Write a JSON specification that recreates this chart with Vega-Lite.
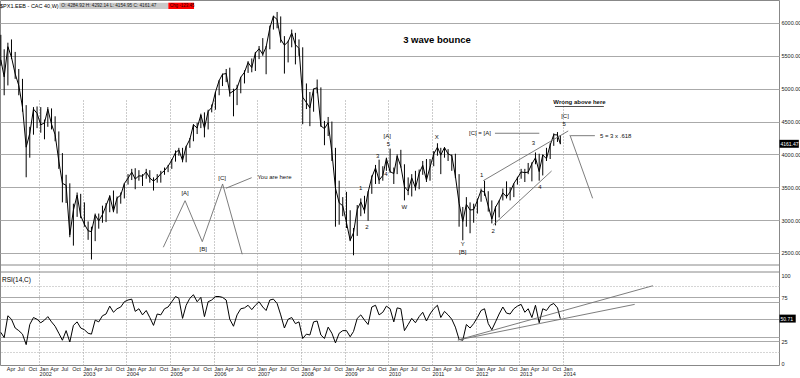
{
 "$schema": "https://vega.github.io/schema/vega-lite/v6.json",
 "width": 779, "height": 365,
 "autosize": {"type": "none"},
 "padding": {"left": 0, "top": 0, "right": 21, "bottom": 13},
 "background": "white",
 "config": {"font": "Liberation Sans", "view": {"stroke": "#888", "strokeWidth": 1}, "text": {"font": "Liberation Sans"}},
 "datasets": {
  "px": [
   {"d":"2001-02-15","h":5820,"l":5350,"c":5440,"r":35},
   {"d":"2001-03-15","h":5600,"l":4900,"c":5180,"r":29},
   {"d":"2001-04-15","h":5700,"l":5050,"c":5640,"r":54},
   {"d":"2001-05-15","h":5750,"l":5450,"c":5480,"r":50},
   {"d":"2001-06-15","h":5560,"l":5150,"c":5226,"r":40},
   {"d":"2001-07-15","h":5300,"l":4900,"c":5050,"r":37},
   {"d":"2001-08-15","h":5150,"l":4650,"c":4720,"r":33},
   {"d":"2001-09-15","h":4750,"l":3652,"c":4110,"r":21},
   {"d":"2001-10-15","h":4420,"l":3950,"c":4320,"r":44},
   {"d":"2001-11-15","h":4720,"l":4300,"c":4690,"r":52},
   {"d":"2001-12-15","h":4730,"l":4400,"c":4625,"r":50},
   {"d":"2002-01-15","h":4720,"l":4330,"c":4450,"r":46},
   {"d":"2002-02-15","h":4530,"l":4230,"c":4480,"r":49},
   {"d":"2002-03-15","h":4720,"l":4420,"c":4688,"r":53},
   {"d":"2002-04-15","h":4700,"l":4380,"c":4460,"r":47},
   {"d":"2002-05-15","h":4580,"l":4200,"c":4300,"r":42},
   {"d":"2002-06-15","h":4350,"l":3780,"c":3898,"r":34},
   {"d":"2002-07-15","h":4020,"l":3270,"c":3560,"r":26},
   {"d":"2002-08-15","h":3690,"l":3260,"c":3530,"r":37},
   {"d":"2002-09-15","h":3560,"l":2740,"c":2777,"r":24},
   {"d":"2002-10-15","h":3250,"l":2612,"c":3150,"r":43},
   {"d":"2002-11-15","h":3420,"l":3050,"c":3380,"r":47},
   {"d":"2002-12-15","h":3400,"l":3030,"c":3064,"r":40},
   {"d":"2003-01-15","h":3270,"l":2900,"c":2938,"r":38},
   {"d":"2003-02-15","h":2980,"l":2700,"c":2838,"r":34},
   {"d":"2003-03-15","h":2900,"l":2401,"c":2824,"r":33},
   {"d":"2003-04-15","h":3100,"l":2680,"c":3080,"r":49},
   {"d":"2003-05-15","h":3100,"l":2870,"c":2986,"r":47},
   {"d":"2003-06-15","h":3220,"l":2960,"c":3085,"r":54},
   {"d":"2003-07-15","h":3260,"l":2970,"c":3218,"r":56},
   {"d":"2003-08-15","h":3380,"l":3120,"c":3366,"r":65},
   {"d":"2003-09-15","h":3450,"l":3120,"c":3135,"r":58},
   {"d":"2003-10-15","h":3360,"l":3100,"c":3336,"r":62},
   {"d":"2003-11-15","h":3420,"l":3250,"c":3380,"r":64},
   {"d":"2003-12-15","h":3560,"l":3330,"c":3557,"r":70},
   {"d":"2004-01-15","h":3700,"l":3540,"c":3638,"r":72},
   {"d":"2004-02-15","h":3780,"l":3610,"c":3731,"r":73},
   {"d":"2004-03-15","h":3790,"l":3470,"c":3625,"r":59},
   {"d":"2004-04-15","h":3760,"l":3600,"c":3674,"r":62},
   {"d":"2004-05-15","h":3700,"l":3520,"c":3670,"r":55},
   {"d":"2004-06-15","h":3780,"l":3630,"c":3733,"r":60},
   {"d":"2004-07-15","h":3760,"l":3570,"c":3640,"r":52},
   {"d":"2004-08-15","h":3650,"l":3450,"c":3594,"r":43},
   {"d":"2004-09-15","h":3700,"l":3570,"c":3641,"r":56},
   {"d":"2004-10-15","h":3750,"l":3570,"c":3706,"r":55},
   {"d":"2004-11-15","h":3800,"l":3690,"c":3754,"r":62},
   {"d":"2004-12-15","h":3840,"l":3730,"c":3821,"r":64},
   {"d":"2005-01-15","h":3930,"l":3780,"c":3913,"r":70},
   {"d":"2005-02-15","h":4060,"l":3890,"c":4027,"r":76},
   {"d":"2005-03-15","h":4100,"l":3980,"c":4067,"r":74},
   {"d":"2005-04-15","h":4100,"l":3880,"c":3908,"r":51},
   {"d":"2005-05-15","h":4130,"l":3880,"c":4120,"r":66},
   {"d":"2005-06-15","h":4250,"l":4100,"c":4229,"r":74},
   {"d":"2005-07-15","h":4460,"l":4200,"c":4451,"r":78},
   {"d":"2005-08-15","h":4480,"l":4310,"c":4402,"r":70},
   {"d":"2005-09-15","h":4620,"l":4400,"c":4600,"r":75},
   {"d":"2005-10-15","h":4640,"l":4260,"c":4399,"r":53},
   {"d":"2005-11-15","h":4680,"l":4380,"c":4653,"r":70},
   {"d":"2005-12-15","h":4760,"l":4640,"c":4715,"r":72},
   {"d":"2006-01-15","h":4950,"l":4680,"c":4947,"r":76},
   {"d":"2006-02-15","h":5130,"l":4900,"c":5123,"r":76},
   {"d":"2006-03-15","h":5230,"l":5040,"c":5220,"r":75},
   {"d":"2006-04-15","h":5300,"l":5100,"c":5231,"r":72},
   {"d":"2006-05-15","h":5320,"l":4880,"c":4930,"r":50},
   {"d":"2006-06-15","h":5000,"l":4580,"c":4965,"r":42},
   {"d":"2006-07-15","h":5060,"l":4750,"c":5009,"r":55},
   {"d":"2006-08-15","h":5180,"l":4930,"c":5175,"r":62},
   {"d":"2006-09-15","h":5280,"l":5080,"c":5250,"r":63},
   {"d":"2006-10-15","h":5420,"l":5240,"c":5399,"r":66},
   {"d":"2006-11-15","h":5460,"l":5250,"c":5320,"r":61},
   {"d":"2006-12-15","h":5560,"l":5270,"c":5542,"r":66},
   {"d":"2007-01-15","h":5650,"l":5450,"c":5608,"r":70},
   {"d":"2007-02-15","h":5770,"l":5500,"c":5523,"r":64},
   {"d":"2007-03-15","h":5650,"l":5220,"c":5634,"r":60},
   {"d":"2007-04-15","h":5960,"l":5600,"c":5925,"r":72},
   {"d":"2007-05-15","h":6110,"l":5900,"c":6104,"r":73},
   {"d":"2007-06-15","h":6168,"l":5920,"c":6054,"r":68},
   {"d":"2007-07-15","h":6100,"l":5700,"c":5751,"r":55},
   {"d":"2007-08-15","h":5800,"l":5230,"c":5662,"r":40},
   {"d":"2007-09-15","h":5730,"l":5400,"c":5716,"r":50},
   {"d":"2007-10-15","h":5900,"l":5630,"c":5848,"r":52},
   {"d":"2007-11-15","h":5850,"l":5370,"c":5670,"r":45},
   {"d":"2007-12-15","h":5750,"l":5500,"c":5614,"r":47},
   {"d":"2008-01-15","h":5630,"l":4460,"c":4870,"r":28},
   {"d":"2008-02-15","h":5080,"l":4690,"c":4790,"r":33},
   {"d":"2008-03-15","h":4950,"l":4430,"c":4707,"r":32},
   {"d":"2008-04-15","h":5000,"l":4650,"c":4997,"r":47},
   {"d":"2008-05-15","h":5140,"l":4930,"c":5014,"r":48},
   {"d":"2008-06-15","h":5020,"l":4420,"c":4434,"r":32},
   {"d":"2008-07-15","h":4510,"l":4140,"c":4392,"r":28},
   {"d":"2008-08-15","h":4570,"l":4280,"c":4483,"r":41},
   {"d":"2008-09-15","h":4500,"l":3900,"c":4032,"r":34},
   {"d":"2008-10-15","h":4100,"l":2900,"c":3487,"r":23},
   {"d":"2008-11-15","h":3600,"l":2930,"c":3263,"r":34},
   {"d":"2008-12-15","h":3350,"l":3060,"c":3218,"r":37},
   {"d":"2009-01-15","h":3430,"l":2880,"c":2962,"r":37},
   {"d":"2009-02-15","h":3150,"l":2680,"c":2693,"r":30},
   {"d":"2009-03-15","h":2880,"l":2465,"c":2807,"r":36},
   {"d":"2009-04-15","h":3230,"l":2760,"c":3160,"r":51},
   {"d":"2009-05-15","h":3330,"l":3060,"c":3277,"r":55},
   {"d":"2009-06-15","h":3370,"l":3100,"c":3140,"r":49},
   {"d":"2009-07-15","h":3440,"l":2990,"c":3426,"r":44},
   {"d":"2009-08-15","h":3680,"l":3400,"c":3653,"r":64},
   {"d":"2009-09-15","h":3840,"l":3550,"c":3795,"r":66},
   {"d":"2009-10-15","h":3920,"l":3550,"c":3607,"r":55},
   {"d":"2009-11-15","h":3820,"l":3600,"c":3680,"r":58},
   {"d":"2009-12-15","h":3950,"l":3750,"c":3936,"r":65},
   {"d":"2010-01-15","h":4088,"l":3720,"c":3739,"r":62},
   {"d":"2010-02-15","h":3800,"l":3550,"c":3708,"r":47},
   {"d":"2010-03-15","h":4000,"l":3700,"c":3974,"r":63},
   {"d":"2010-04-15","h":4070,"l":3800,"c":3817,"r":62},
   {"d":"2010-05-15","h":3850,"l":3300,"c":3508,"r":37},
   {"d":"2010-06-15","h":3650,"l":3380,"c":3443,"r":44},
   {"d":"2010-07-15","h":3700,"l":3360,"c":3643,"r":51},
   {"d":"2010-08-15","h":3750,"l":3450,"c":3491,"r":46},
   {"d":"2010-09-15","h":3770,"l":3470,"c":3715,"r":53},
   {"d":"2010-10-15","h":3900,"l":3690,"c":3833,"r":58},
   {"d":"2010-11-15","h":3930,"l":3580,"c":3610,"r":48},
   {"d":"2010-12-15","h":3930,"l":3600,"c":3805,"r":56},
   {"d":"2011-01-15","h":4050,"l":3820,"c":4005,"r":62},
   {"d":"2011-02-15","h":4170,"l":3980,"c":4110,"r":66},
   {"d":"2011-03-15","h":4100,"l":3700,"c":3989,"r":52},
   {"d":"2011-04-15","h":4110,"l":3950,"c":4106,"r":59},
   {"d":"2011-05-15","h":4080,"l":3900,"c":4007,"r":55},
   {"d":"2011-06-15","h":4000,"l":3750,"c":3982,"r":50},
   {"d":"2011-07-15","h":4010,"l":3640,"c":3672,"r":41},
   {"d":"2011-08-15","h":3700,"l":2900,"c":3256,"r":27},
   {"d":"2011-09-15","h":3200,"l":2693,"c":2981,"r":26},
   {"d":"2011-10-15","h":3350,"l":2900,"c":3242,"r":44},
   {"d":"2011-11-15","h":3270,"l":2800,"c":3154,"r":40},
   {"d":"2011-12-15","h":3250,"l":2960,"c":3160,"r":45},
   {"d":"2012-01-15","h":3330,"l":3100,"c":3298,"r":52},
   {"d":"2012-02-15","h":3480,"l":3280,"c":3451,"r":60},
   {"d":"2012-03-15","h":3600,"l":3370,"c":3424,"r":62},
   {"d":"2012-04-15","h":3440,"l":3130,"c":3213,"r":45},
   {"d":"2012-05-15","h":3300,"l":2950,"c":3017,"r":38},
   {"d":"2012-06-15","h":3210,"l":2920,"c":3197,"r":47},
   {"d":"2012-07-15","h":3300,"l":3040,"c":3291,"r":56},
   {"d":"2012-08-15","h":3480,"l":3300,"c":3414,"r":64},
   {"d":"2012-09-15","h":3590,"l":3330,"c":3355,"r":57},
   {"d":"2012-10-15","h":3500,"l":3300,"c":3429,"r":56},
   {"d":"2012-11-15","h":3560,"l":3350,"c":3558,"r":62},
   {"d":"2012-12-15","h":3660,"l":3540,"c":3641,"r":65},
   {"d":"2013-01-15","h":3780,"l":3630,"c":3733,"r":67},
   {"d":"2013-02-15","h":3780,"l":3580,"c":3723,"r":58},
   {"d":"2013-03-15","h":3870,"l":3700,"c":3731,"r":62},
   {"d":"2013-04-15","h":3880,"l":3590,"c":3857,"r":52},
   {"d":"2013-05-15","h":4030,"l":3850,"c":3949,"r":66},
   {"d":"2013-06-15","h":4010,"l":3600,"c":3739,"r":46},
   {"d":"2013-07-15","h":4000,"l":3680,"c":3992,"r":62},
   {"d":"2013-08-15","h":4100,"l":3900,"c":3934,"r":60},
   {"d":"2013-09-15","h":4170,"l":3930,"c":4143,"r":66},
   {"d":"2013-10-15","h":4320,"l":4130,"c":4300,"r":68},
   {"d":"2013-11-15","h":4340,"l":4190,"c":4296,"r":63},
   {"d":"2013-12-09","h":4292,"l":4155,"c":4161.47,"r":50.71}
  ],
  "segs": [
   {"a":"2004-11-05","pa":2587,"b":"2005-05-06","pb":3296},
   {"a":"2005-05-06","pa":3296,"b":"2005-09-27","pb":2672},
   {"a":"2005-09-27","pa":2672,"b":"2006-03-16","pb":3550},
   {"a":"2006-03-16","pa":3550,"b":"2006-08-27","pb":2480},
   {"a":"2006-04-13","pa":3485,"b":"2006-11-14","pb":3646},
   {"a":"2012-06-10","pa":4322,"b":"2013-06-16","pb":4322},
   {"a":"2014-03-05","pa":4285,"b":"2014-09-24","pb":4285},
   {"a":"2014-02-27","pa":4296,"b":"2014-09-05","pb":3332},
   {"a":"2012-03-04","pa":3600,"b":"2014-02-13","pb":4357},
   {"a":"2012-05-27","pa":2926,"b":"2013-09-27","pb":3748}
  ],
  "labels": [
   {"d":"2005-05-06","p":3413,"t":"[A]"},
   {"d":"2005-10-05","p":2556,"t":"[B]"},
   {"d":"2006-03-12","p":3637,"t":"[C]"},
   {"d":"2009-12-22","p":4285,"t":"[A]"},
   {"d":"2010-01-01","p":4159,"t":"5"},
   {"d":"2009-10-03","p":3976,"t":"3"},
   {"d":"2009-12-12","p":3698,"t":"4"},
   {"d":"2009-05-14","p":3485,"t":"1"},
   {"d":"2009-07-05","p":2896,"t":"2"},
   {"d":"2010-05-14","p":3196,"t":"W"},
   {"d":"2011-02-09","p":4261,"t":"X"},
   {"d":"2012-02-05","p":4322,"t":"[C] = [A]"},
   {"d":"2014-01-17","p":4585,"t":"[C]"},
   {"d":"2014-01-11","p":4459,"t":"5"},
   {"d":"2012-02-20","p":3687,"t":"1"},
   {"d":"2012-05-27","p":2835,"t":"2"},
   {"d":"2013-04-27","p":4169,"t":"3"},
   {"d":"2013-06-22","p":3500,"t":"4"},
   {"d":"2011-09-14","p":2637,"t":"Y"},
   {"d":"2011-09-14","p":2520,"t":"[B]"}
  ],
  "leftlabels": [
   {"d":"2007-01-01","p":3652,"t":"You are here"},
   {"d":"2014-11-05","p":4285,"t":"5 = 3 x .618"}
  ],
  "rsisegs": [
   {"a":"2011-08-05","ra":26.3,"b":"2016-01-22","rb":88.3},
   {"a":"2011-08-05","ra":26.3,"b":"2015-08-23","rb":67}
  ]
 },
 "layer": [
  {
   "layer": [
    {
     "data": {"name": "px"},
     "mark": {"type": "rule", "color": "#000", "strokeWidth": 1},
     "encoding": {
      "x": {"field": "d", "type": "temporal",
            "scale": {"type": "utc", "domain": [{"year":2001,"month":2,"date":8,"utc":true},{"year":2018,"month":12,"date":12,"utc":true}], "nice": false},
            "axis": {"title": null, "orient": "bottom", "tickCount": {"interval": "month", "step": 3},
                     "labelExpr": "time(datum.value) <= utc(2014,0,2) ? utcFormat(datum.value, '%b') : ''",
                     "labelAlign": "left", "labelFontSize": 5.5, "labelColor": "#222", "labelPadding": 1,
                     "labelOverlap": false, "labelFlush": false, "labelBound": false,
                     "ticks": false, "domain": false, "grid": true, "gridDash": [1, 2], "gridColor": "#999",
                     "gridOpacity": {"condition": {"test": "utcmonth(datum.value) === 0 && time(datum.value) <= utc(2014,0,2)", "value": 1}, "value": 0}}},
      "y": {"field": "l", "type": "quantitative",
            "scale": {"domain": [2317, 6350], "range": [265, 0], "zero": false, "nice": false},
            "axis": {"title": null, "orient": "right", "values": [2500,2750,3000,3250,3500,3750,4000,4250,4500,4750,5000,5250,5500,5750,6000,6250],
                     "labelExpr": "datum.value % 500 === 0 ? format(datum.value, '.2f') : ''",
                     "labelFontSize": 5.5, "labelColor": "#222", "labelPadding": 2, "ticks": false, "domain": false,
                     "grid": true, "gridColor": {"condition": {"test": "datum.value % 500 === 0", "value": "#aaa"}, "value": "#bbb"},
                     "gridDash": {"condition": {"test": "datum.value % 500 === 0", "value": []}, "value": [1, 2]}}},
      "y2": {"field": "h"}
     }
    },
    {
     "data": {"name": "px"},
     "mark": {"type": "line", "color": "#000", "strokeWidth": 1},
     "encoding": {
      "x": {"field": "d", "type": "temporal"},
      "y": {"field": "c", "type": "quantitative"}
     }
    },
    {
     "data": {"name": "segs"},
     "mark": {"type": "rule", "color": "#6e6e6e", "strokeWidth": 0.9},
     "encoding": {
      "x": {"field": "a", "type": "temporal"},
      "x2": {"field": "b"},
      "y": {"field": "pa", "type": "quantitative"},
      "y2": {"field": "pb"}
     }
    },
    {
     "data": {"values": [{"a": "2013-10-25", "b": "2014-12-08", "p": 4729}]},
     "mark": {"type": "rule", "color": "#222", "strokeWidth": 0.8},
     "encoding": {
      "x": {"field": "a", "type": "temporal"},
      "x2": {"field": "b"},
      "y": {"field": "p", "type": "quantitative"}
     }
    },
    {
     "data": {"name": "labels"},
     "mark": {"type": "text", "fontSize": 6, "color": "#111", "align": "center", "baseline": "middle"},
     "encoding": {
      "x": {"field": "d", "type": "temporal"},
      "y": {"field": "p", "type": "quantitative"},
      "text": {"field": "t"}
     }
    },
    {
     "data": {"name": "leftlabels"},
     "mark": {"type": "text", "fontSize": 6, "color": "#111", "align": "left", "baseline": "middle"},
     "encoding": {
      "x": {"field": "d", "type": "temporal"},
      "y": {"field": "p", "type": "quantitative"},
      "text": {"field": "t"}
     }
    },
    {
     "data": {"values": [{"d": "2011-02-11", "p": 5741, "t": "3 wave bounce"}]},
     "mark": {"type": "text", "fontSize": 9.5, "fontWeight": "bold", "color": "#000", "align": "center", "baseline": "middle"},
     "encoding": {
      "x": {"field": "d", "type": "temporal"},
      "y": {"field": "p", "type": "quantitative"},
      "text": {"field": "t"}
     }
    },
    {
     "data": {"values": [{"d": "2014-05-18", "p": 4802, "t": "Wrong above here"}]},
     "mark": {"type": "text", "fontSize": 6, "fontWeight": "bold", "color": "#111", "align": "center", "baseline": "middle"},
     "encoding": {
      "x": {"field": "d", "type": "temporal"},
      "y": {"field": "p", "type": "quantitative"},
      "text": {"field": "t"}
     }
    },
    {
     "data": {"values": [{}]},
     "mark": {"type": "rule", "color": "#888", "strokeWidth": 1},
     "encoding": {"y": {"datum": 2317, "type": "quantitative"}}
    },
    {
     "data": {"values": [{"a": "2002-06-19", "b": "2004-12-17", "t": "O: 4284.92  H: 4292.14  L: 4154.95  C: 4161.47"}]},
     "layer": [
      {"mark": {"type": "rect", "fill": "#c9c9c9"},
       "encoding": {"x": {"field": "a", "type": "temporal"}, "x2": {"field": "b"},
                    "y": {"datum": 6309, "type": "quantitative"}, "y2": {"datum": 6213}}},
      {"mark": {"type": "text", "fontSize": 4.7, "color": "#222", "align": "left", "baseline": "middle", "dx": 2},
       "encoding": {"x": {"field": "a", "type": "temporal"}, "y": {"datum": 6261, "type": "quantitative"}, "text": {"field": "t"}}}
     ]
    },
    {
     "data": {"values": [{"a": "2004-12-17", "b": "2005-07-20", "t": "Chg -123.45"}]},
     "layer": [
      {"mark": {"type": "rect", "fill": "#ff0000"},
       "encoding": {"x": {"field": "a", "type": "temporal"}, "x2": {"field": "b"},
                    "y": {"datum": 6309, "type": "quantitative"}, "y2": {"datum": 6213}}},
      {"mark": {"type": "text", "fontSize": 4.5, "color": "#300", "align": "left", "baseline": "middle", "dx": 1.5},
       "encoding": {"x": {"field": "a", "type": "temporal"}, "y": {"datum": 6261, "type": "quantitative"}, "text": {"field": "t"}}}
     ]
    },
    {
     "data": {"values": [{"d": "2001-02-08", "p": 6261, "t": "$PX1.EEB - CAC 40,W)"}]},
     "mark": {"type": "text", "fontSize": 5.5, "color": "#000", "align": "left", "baseline": "middle"},
     "encoding": {
      "x": {"field": "d", "type": "temporal"},
      "y": {"field": "p", "type": "quantitative"},
      "text": {"field": "t"}
     }
    },
    {
     "data": {"values": [{"a": "2018-12-16", "b": "2019-05-27", "v": 4161.47}]},
     "layer": [
      {"mark": {"type": "rect", "fill": "#000"},
       "encoding": {"x": {"field": "a", "type": "temporal"}, "x2": {"field": "b"},
                    "y": {"datum": 4222, "type": "quantitative"}, "y2": {"datum": 4101}}},
      {"mark": {"type": "text", "fontSize": 5, "color": "#fff", "align": "left", "baseline": "middle", "dx": 1},
       "encoding": {"x": {"field": "a", "type": "temporal"}, "y": {"field": "v", "type": "quantitative"},
                    "text": {"field": "v", "type": "quantitative", "format": ".2f"}}}
     ]
    }
   ]
  },
  {
   "layer": [
    {
     "data": {"name": "px"},
     "mark": {"type": "line", "color": "#000", "strokeWidth": 1},
     "encoding": {
      "x": {"field": "d", "type": "temporal",
            "scale": {"type": "utc", "domain": [{"year":2001,"month":2,"date":8,"utc":true},{"year":2018,"month":12,"date":12,"utc":true}], "nice": false},
            "axis": {"title": null, "orient": "bottom", "tickCount": {"interval": "year", "step": 1},
                     "labelExpr": "time(datum.value) >= utc(2001,11,31) && time(datum.value) <= utc(2014,0,2) ? utcFormat(datum.value, '%Y') : ''",
                     "labelAlign": "left", "labelFontSize": 5.5, "labelColor": "#222", "labelPadding": 6,
                     "labelOverlap": false, "labelFlush": false, "labelBound": false,
                     "ticks": false, "domain": false, "grid": false}},
      "y": {"field": "r", "type": "quantitative",
            "scale": {"domain": [0, 100], "range": [363, 275.5], "zero": false, "nice": false},
            "axis": {"title": null, "orient": "right", "values": [0, 12.5, 25, 30, 50, 70, 75, 87.5, 100],
                     "labelExpr": "indexof([0, 25, 75, 100], datum.value) >= 0 ? '' + datum.value : ''",
                     "labelFontSize": 5.5, "labelColor": "#222", "labelPadding": 2, "ticks": false, "domain": false,
                     "grid": true, "gridColor": "#aaa",
                     "gridOpacity": {"condition": {"test": "datum.value === 0 || datum.value === 100", "value": 0}, "value": 1},
                     "gridDash": {"condition": {"test": "datum.value === 12.5 || datum.value === 87.5", "value": [1, 2]}, "value": []}}}
     }
    },
    {
     "data": {"name": "rsisegs"},
     "mark": {"type": "rule", "color": "#6e6e6e", "strokeWidth": 0.9},
     "encoding": {
      "x": {"field": "a", "type": "temporal"},
      "x2": {"field": "b"},
      "y": {"field": "ra", "type": "quantitative"},
      "y2": {"field": "rb"}
     }
    },
    {
     "data": {"values": [{}]},
     "mark": {"type": "rule", "color": "#888", "strokeWidth": 1},
     "encoding": {"y": {"datum": 104, "type": "quantitative"}}
    },
    {
     "data": {"values": [{"d": "2001-02-25", "v": 94.9, "t": "RSI(14,C)"}]},
     "mark": {"type": "text", "fontSize": 6.5, "color": "#000", "align": "left", "baseline": "middle"},
     "encoding": {
      "x": {"field": "d", "type": "temporal"},
      "y": {"field": "v", "type": "quantitative"},
      "text": {"field": "t"}
     }
    },
    {
     "data": {"values": [{"a": "2018-12-16", "b": "2019-05-01", "v": 50.71}]},
     "layer": [
      {"mark": {"type": "rect", "fill": "#000"},
       "encoding": {"x": {"field": "a", "type": "temporal"}, "x2": {"field": "b"},
                    "y": {"datum": 55.3, "type": "quantitative"}, "y2": {"datum": 46.2}}},
      {"mark": {"type": "text", "fontSize": 5, "color": "#fff", "align": "left", "baseline": "middle", "dx": 1},
       "encoding": {"x": {"field": "a", "type": "temporal"}, "y": {"field": "v", "type": "quantitative"},
                    "text": {"field": "v", "type": "quantitative", "format": ".2f"}}}
     ]
    }
   ]
  }
 ],
 "resolve": {"scale": {"y": "independent"}, "axis": {"x": "independent", "y": "independent"}}
}
